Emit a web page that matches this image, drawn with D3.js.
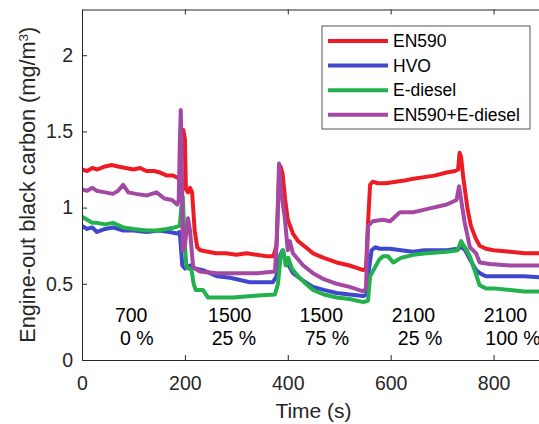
<!DOCTYPE html>
<html lang="en">
<head>
  <meta charset="UTF-8">
  <title>Engine-out black carbon</title>
  <script src="https://d3js.org/d3.v7.min.js"></script>
  <style>
    body { margin: 0; background: #fff; }
    svg { display: block; font-family: "Liberation Sans", Arial, sans-serif; }
  </style>
</head>
<body>
<div class="main"></div>
<script>
  // data: [time s, black carbon mg/m3]
  var en590 = [[0,1.25],[10,1.24],[20,1.26],[30,1.25],[45,1.27],[58,1.28],[70,1.27],[85,1.26],[100,1.25],[113,1.26],[125,1.24],[140,1.24],[152,1.23],[165,1.21],[178,1.21],[188,1.19],[192,1.2],[194,1.45],[197,1.51],[200,1.45],[202,1.12],[206,1.1],[210,1.13],[214,1.1],[219,0.85],[224,0.74],[230,0.72],[245,0.71],[260,0.70],[280,0.70],[300,0.69],[320,0.70],[340,0.69],[360,0.68],[372,0.68],[378,0.75],[383,1.2],[386,1.27],[390,1.22],[395,1.05],[400,0.92],[410,0.83],[420,0.78],[435,0.74],[449,0.70],[470,0.67],[495,0.64],[520,0.62],[547,0.59],[552,0.6],[556,0.9],[560,1.15],[565,1.17],[575,1.16],[590,1.16],[610,1.17],[630,1.18],[644,1.19],[665,1.2],[685,1.21],[709,1.23],[725,1.24],[731,1.25],[734,1.36],[737,1.33],[741,1.2],[745,1.1],[750,0.98],[756,0.88],[765,0.80],[773,0.75],[785,0.73],[800,0.72],[832,0.71],[860,0.70],[900,0.70]];
  var hvo = [[0,0.88],[10,0.86],[20,0.87],[29,0.84],[45,0.86],[60,0.87],[80,0.85],[100,0.85],[126,0.84],[150,0.85],[170,0.84],[185,0.83],[190,0.84],[195,0.62],[200,0.6],[210,0.62],[220,0.6],[235,0.59],[262,0.55],[288,0.54],[326,0.51],[371,0.51],[378,0.55],[384,0.68],[390,0.72],[395,0.66],[402,0.62],[410,0.57],[430,0.52],[449,0.48],[470,0.46],[495,0.44],[520,0.43],[547,0.42],[553,0.43],[558,0.6],[563,0.72],[570,0.74],[579,0.73],[599,0.73],[620,0.72],[644,0.71],[665,0.72],[690,0.72],[709,0.72],[730,0.73],[739,0.74],[745,0.72],[754,0.66],[766,0.59],[773,0.57],[785,0.55],[800,0.55],[832,0.55],[860,0.55],[900,0.54]];
  var ediesel = [[0,0.94],[10,0.92],[20,0.90],[29,0.90],[45,0.89],[60,0.90],[80,0.87],[100,0.86],[126,0.85],[145,0.85],[165,0.86],[180,0.87],[190,0.88],[193,1.0],[196,1.07],[199,0.8],[203,0.61],[213,0.59],[217,0.5],[221,0.46],[235,0.46],[245,0.41],[270,0.41],[294,0.41],[330,0.42],[375,0.43],[381,0.5],[386,0.68],[391,0.72],[396,0.62],[401,0.67],[408,0.6],[420,0.55],[435,0.5],[449,0.46],[470,0.43],[495,0.41],[520,0.40],[547,0.38],[556,0.39],[560,0.55],[570,0.61],[578,0.66],[585,0.68],[595,0.68],[605,0.64],[620,0.67],[644,0.69],[670,0.70],[709,0.71],[730,0.72],[737,0.78],[742,0.75],[748,0.72],[754,0.68],[766,0.56],[773,0.49],[785,0.47],[800,0.47],[832,0.46],[860,0.45],[900,0.45]];
  var blend = [[0,1.12],[10,1.11],[20,1.13],[29,1.11],[45,1.1],[60,1.09],[70,1.11],[80,1.15],[90,1.1],[105,1.09],[126,1.08],[145,1.10],[160,1.06],[175,1.05],[185,1.02],[188,1.05],[190,1.4],[192,1.64],[194,1.3],[196,0.72],[200,0.75],[206,0.93],[210,0.85],[216,0.61],[229,0.58],[262,0.57],[300,0.57],[340,0.57],[375,0.58],[379,0.8],[383,1.29],[387,1.1],[394,0.94],[400,0.72],[404,0.78],[410,0.70],[430,0.62],[449,0.57],[470,0.53],[495,0.50],[520,0.48],[547,0.45],[552,0.47],[556,0.88],[565,0.91],[585,0.92],[599,0.91],[618,0.97],[644,0.97],[670,0.99],[709,1.02],[728,1.05],[733,1.14],[737,1.05],[744,0.90],[754,0.74],[766,0.70],[773,0.64],[793,0.63],[832,0.62],[900,0.62]];

  var seriesNames = ["EN590", "HVO", "E-diesel", "EN590+E-diesel"];
  var seriesData = [en590, hvo, ediesel, blend];
  var seriesColors = ["#ED1C24", "#3F48CC", "#22B14C", "#A349A4"];

  var xTicks = [0, 200, 400, 600, 800];
  var yTicks = [0, 0.5, 1, 1.5, 2];

  // operating point notes: speed (rpm) and load
  var noteSpeed = ["700", "1500", "1500", "2100", "2100"];
  var noteLoad = ["0 %", "25 %", "75 %", "25 %", "100 %"];
  var noteSpeedT = [64, 245, 423, 602, 781];
  var noteLoadT = [74, 252, 433, 614, 784];

  let width = 539;
  let height = 424;
  let mLeft = 82, mTop = 9.5, mRight = 545, mBottom = 360;

  let svg = d3.select(".main").append("svg").attr("width", width).attr("height", height);

  let x = d3.scaleLinear().domain([0, 900]).range([mLeft, mRight]);
  let y = d3.scaleLinear().domain([0, 2.3]).range([mBottom, mTop]);

  svg.append("clipPath").attr("id", "plotclip")
    .append("rect").attr("x", mLeft).attr("y", mTop).attr("width", mRight - mLeft).attr("height", mBottom - mTop);

  // lines
  let line = d3.line().x(d => x(d[0])).y(d => y(d[1]));
  for (let i = 0; i < seriesData.length; i++) {
    svg.append("path").datum(seriesData[i])
      .attr("clip-path", "url(#plotclip)")
      .attr("d", line)
      .style("fill", "none")
      .style("stroke", seriesColors[i])
      .style("stroke-width", 4)
      .style("stroke-linejoin", "round");
  }

  // axes, ticks pointing inward
  let axisColor = "#262626";
  let gx = svg.append("g").attr("transform", "translate(0," + mBottom + ")")
    .call(d3.axisBottom(x).tickValues(xTicks).tickSizeInner(-5).tickSizeOuter(0).tickPadding(16).tickFormat(d3.format("d")));
  let gxTop = svg.append("g").attr("transform", "translate(0," + mTop + ")")
    .call(d3.axisTop(x).tickValues(xTicks).tickSizeInner(-5).tickSizeOuter(0).tickFormat(""));
  let gy = svg.append("g").attr("transform", "translate(" + mLeft + ",0)")
    .call(d3.axisLeft(y).tickValues(yTicks).tickSizeInner(-5).tickSizeOuter(0).tickPadding(9).tickFormat(d => String(d)));
  let gyRight = svg.append("g").attr("transform", "translate(" + mRight + ",0)")
    .call(d3.axisRight(y).tickValues(yTicks).tickSizeInner(-5).tickSizeOuter(0).tickFormat(""));

  [gx, gxTop, gy, gyRight].forEach(function(g) {
    g.selectAll("path, line").style("stroke", axisColor).style("stroke-width", 1);
    g.selectAll("text").style("fill", axisColor).style("font-size", "19.5px").style("font-family", "Liberation Sans, Arial, sans-serif");
  });

  // axis labels
  svg.append("text").attr("x", (mLeft + mRight) / 2).attr("y", 418)
    .attr("text-anchor", "middle").style("font-size", "21px").style("fill", axisColor).text("Time (s)");

  let ylab = svg.append("text").attr("transform", "translate(35," + (mTop + mBottom) / 2 + ") rotate(-90)")
    .attr("text-anchor", "middle").style("font-size", "21.7px").style("fill", axisColor);
  ylab.append("tspan").text("Engine-out black carbon (mg/m");
  ylab.append("tspan").attr("baseline-shift", "super").style("font-size", "13.5px").text("3");
  ylab.append("tspan").text(")");

  // operating point notes
  for (let i = 0; i < noteSpeed.length; i++) {
    svg.append("text").attr("x", x(noteSpeedT[i])).attr("y", y(0.25))
      .style("font-size", "19.5px").style("fill", "#000").text(noteSpeed[i]);
    svg.append("text").attr("x", x(noteLoadT[i])).attr("y", y(0.1))
      .style("font-size", "19.5px").style("fill", "#000").text(noteLoad[i]);
  }

  // legend
  let lg = svg.append("g");
  lg.append("rect").attr("x", 322).attr("y", 26).attr("width", 208).attr("height", 103)
    .style("fill", "#fff").style("stroke", "#555").style("stroke-width", 1);
  for (let i = 0; i < seriesNames.length; i++) {
    let ly = 41 + i * 24.6;
    lg.append("line").attr("x1", 328).attr("x2", 388).attr("y1", ly).attr("y2", ly)
      .style("stroke", seriesColors[i]).style("stroke-width", 4);
    lg.append("text").attr("x", 393).attr("y", ly).attr("dy", "0.35em")
      .style("font-size", "17.5px").style("fill", "#000").text(seriesNames[i]);
  }
</script>
</body>
</html>
